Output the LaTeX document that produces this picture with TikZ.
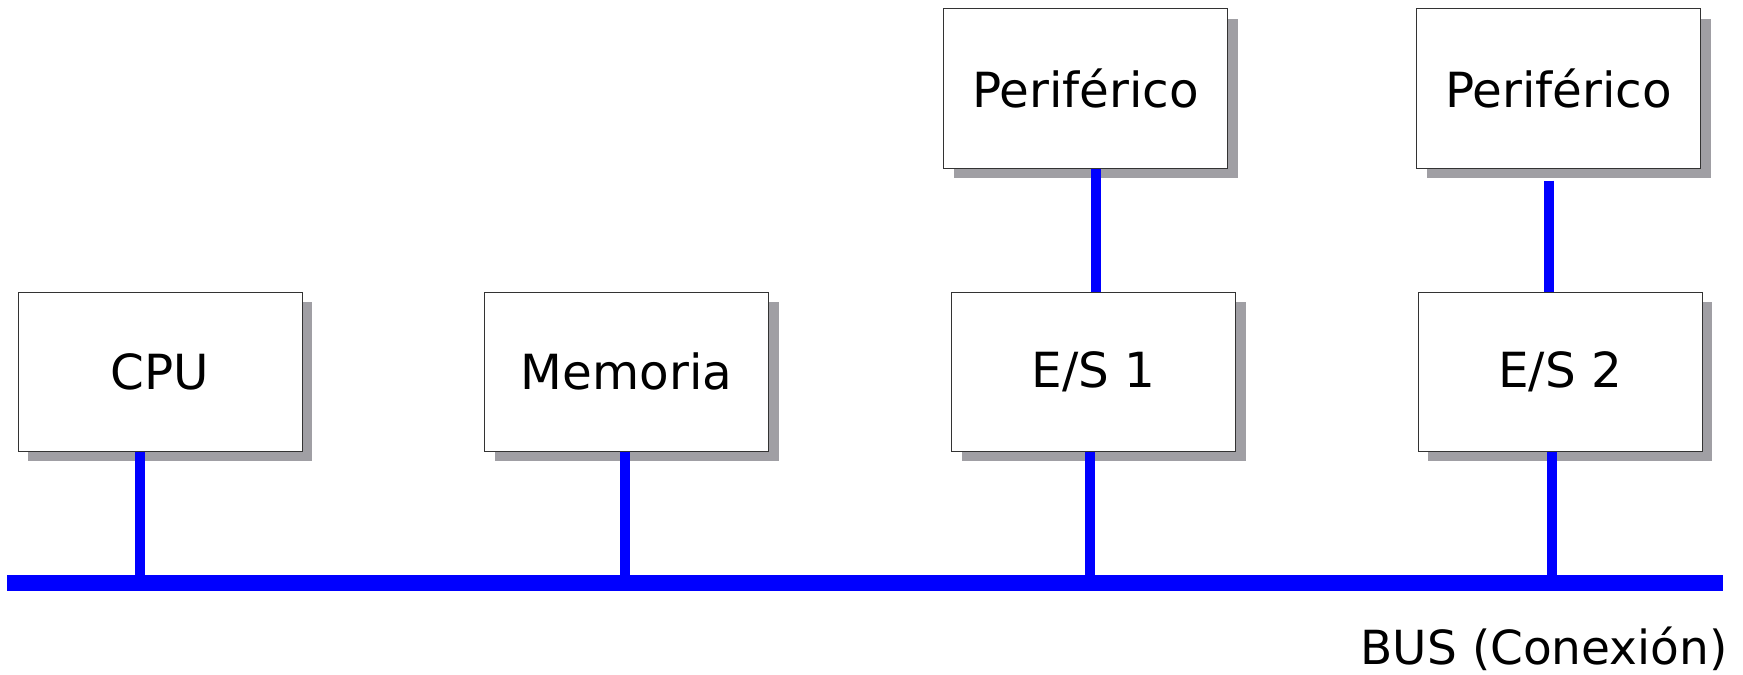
\documentclass[tikz,border=0pt]{standalone}
\usepackage{fontspec}
\setmainfont{DejaVu Sans}
\usetikzlibrary{shadows}

\definecolor{busblue}{RGB}{0,0,255}
\definecolor{shadowgray}{RGB}{160,159,164}

\begin{document}
\begin{tikzpicture}[
    x=0.5pt, y=-0.5pt,
    unit/.style={draw=black!80, line width=0.5pt, fill=white,
        minimum width=142pt, minimum height=79.5pt,
        drop shadow={shadow xshift=5pt, shadow yshift=-5pt,
            fill=shadowgray, opacity=1}},
    link/.style={draw=busblue, line width=5pt},
    bus/.style={draw=busblue, line width=8pt},
    every node/.style={font=\fontsize{24.2pt}{29pt}\selectfont}]

\useasboundingbox (0,0) rectangle (1743,674);

% units on the bus
\node[unit] (cpu) at (160,371.5) {CPU};
\node[unit] (mem) at (626.5,371.5) {Memoria};
\node[unit] (es1) at (1093.5,371.5) {E/S 1};
\node[unit] (es2) at (1560,371.5) {E/S 2};
% peripherals
\node[unit] (per1) at (1085.5,88.5) {Periférico};
\node[unit] (per2) at (1558.5,88.5) {Periférico};

% the bus itself
\coordinate (busL) at (7,583);
\coordinate (busR) at (1723,583);

% links down to the bus
\draw[link] ([xshift=-10pt]cpu.south) -- ([xshift=-10pt]cpu.south |- busL);
\draw[link] ([xshift=-1pt]mem.south) -- ([xshift=-1pt]mem.south |- busL);
\draw[link] ([xshift=-2pt]es1.south) -- ([xshift=-2pt]es1.south |- busL);
\draw[link] ([xshift=-4pt]es2.south) -- ([xshift=-4pt]es2.south |- busL);
% links from the peripherals
\draw[link] ([xshift=5pt]per1.south) -- ([xshift=5pt]per1.south |- es1.north);
\draw[link] ([xshift=-5pt,yshift=-6pt]per2.south) -- ([xshift=-5pt]per2.south |- es2.north);

\draw[bus] (busL) -- (busR);
\node[anchor=base east, inner sep=0pt, font=\fontsize{23.5pt}{28pt}\selectfont]
    (buslabel) at (1728,664) {BUS (Conexión)};
\end{tikzpicture}
\end{document}
